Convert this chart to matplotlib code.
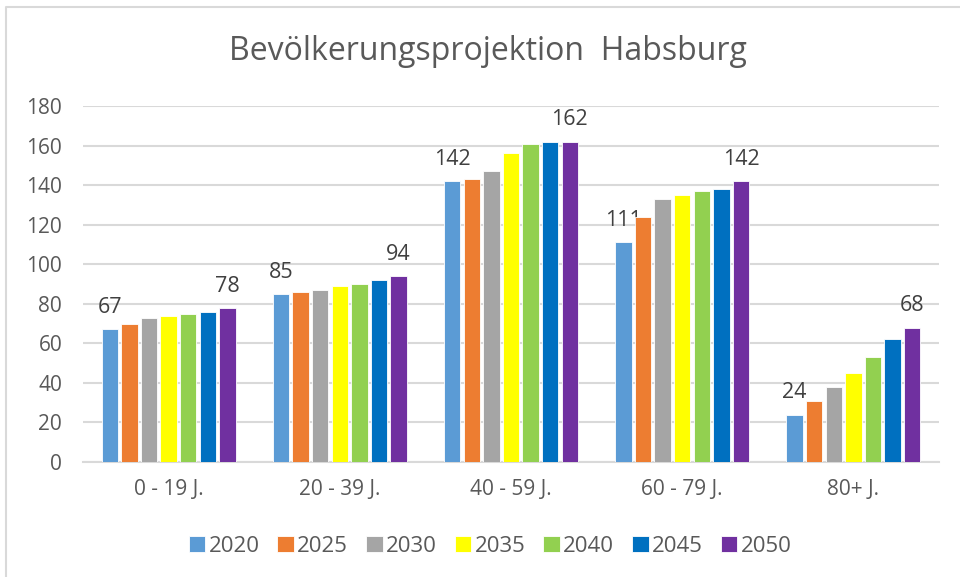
import matplotlib.pyplot as plt
import numpy as np
from matplotlib.lines import Line2D

plt.rcParams['font.family'] = ['Open Sans', 'DejaVu Sans']

categories = ["0 - 19 J.", "20 - 39 J.", "40 - 59 J.", "60 - 79 J.", "80+ J."]
years = ["2020", "2025", "2030", "2035", "2040", "2045", "2050"]
values = {
    "2020": [67, 85, 142, 111, 24],
    "2025": [70, 86, 143, 124, 31],
    "2030": [73, 87, 147, 133, 38],
    "2035": [74, 89, 156, 135, 45],
    "2040": [75, 90, 161, 137, 53],
    "2045": [76, 92, 162, 138, 62],
    "2050": [78, 94, 162, 142, 68],
}
colors = ["#5B9BD5", "#ED7D31", "#A5A5A5", "#FFFF00", "#92D050", "#0070C0", "#7030A0"]

W, H = 960, 577
fig = plt.figure(figsize=(9.6, 5.77), dpi=100)
ax = fig.add_axes([83 / W, 115 / H, 856 / W, 356 / H])

x = np.arange(len(categories))
slot = 0.1145
width = 0.095
for i, yr in enumerate(years):
    pos = x + (i - 3) * slot
    bars = ax.bar(pos, values[yr], width, color=colors[i], label=yr,
                  edgecolor="white", linewidth=0.6, zorder=3)
    # only first and last year get labels
    if i == 0 or i == len(years) - 1:
        for b, v in zip(bars, values[yr]):
            ax.annotate(str(v), (b.get_x() + b.get_width() / 2, v),
                        xytext=(0, 8), textcoords="offset points",
                        ha="center", va="bottom", fontsize=15.5, color="#404040")

ax.set_xlim(-0.5, len(categories) - 0.5)
ax.set_ylim(0, 180)
ax.set_yticks(range(0, 181, 20))
ax.yaxis.grid(True, color="#d9d9d9", linewidth=1.5, zorder=0)
ax.set_axisbelow(True)
for s in ["top", "right", "left"]:
    ax.spines[s].set_visible(False)
ax.spines["bottom"].set_color("#d9d9d9")
ax.spines["bottom"].set_linewidth(1.5)
ax.tick_params(axis="both", length=0, labelsize=15, colors="#595959")
ax.tick_params(axis="y", pad=15)
ax.tick_params(axis="x", pad=12)
ax.set_xticks(x)
ax.set_xticklabels(categories)

fig.text(488 / W, 1 - 52 / H, "Bevölkerungsprojektion  Habsburg", ha="center",
         va="center", fontsize=23, color="#595959")

fig.legend(loc="center", bbox_to_anchor=(490 / W, 1 - 546 / H), ncol=7, frameon=False,
           fontsize=16, handlelength=0.75, handleheight=0.75, handletextpad=0.15,
           columnspacing=0.8, labelcolor="#595959")

# chart frame (top and left edges visible in the screenshot)
fig.lines.append(Line2D([6 / W, 6 / W, 1], [0, 1 - 7 / H, 1 - 7 / H],
                        transform=fig.transFigure, color="#d9d9d9", linewidth=1.5))

fig.savefig("out.png", dpi=100)
